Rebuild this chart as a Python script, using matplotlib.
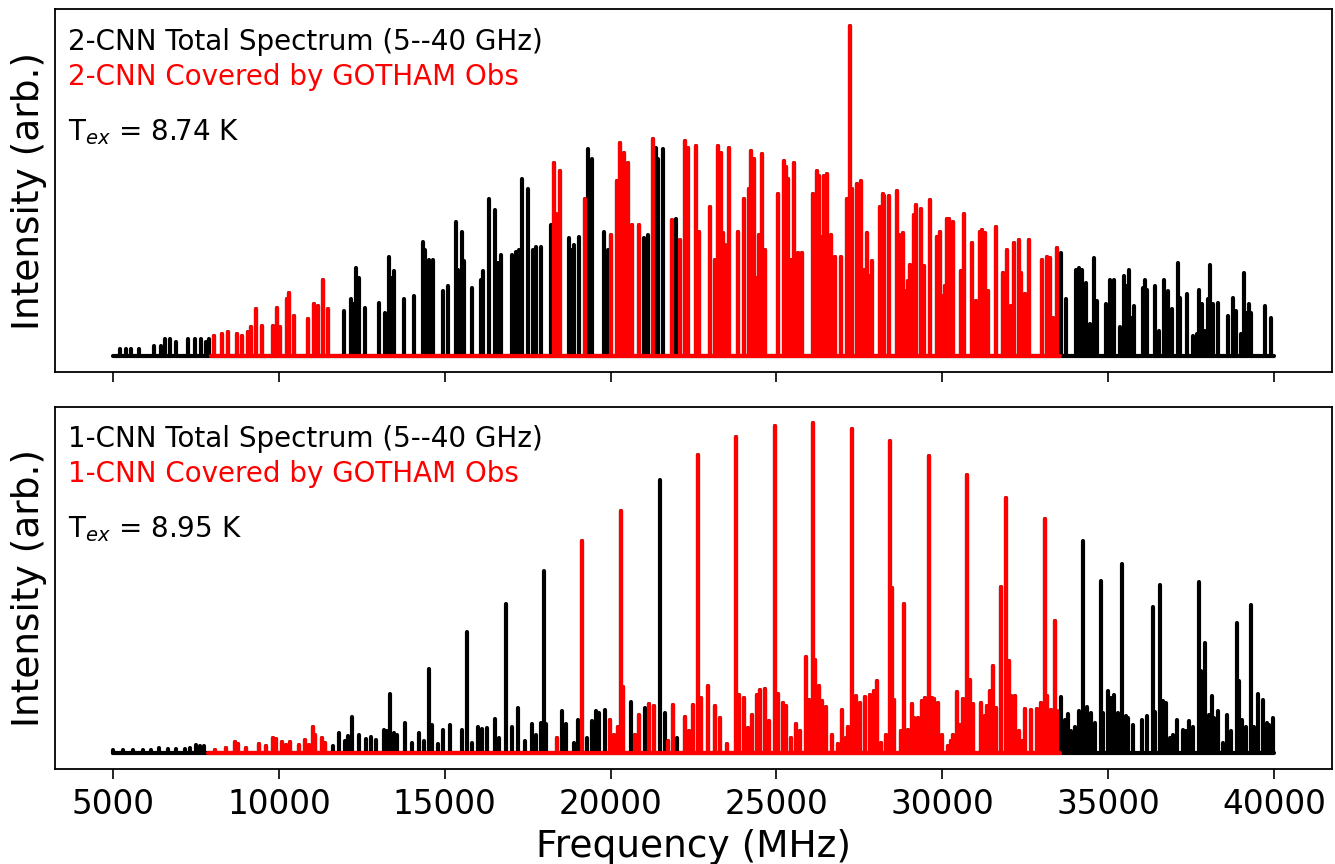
import numpy as np
import matplotlib
matplotlib.use("Agg")
import matplotlib.pyplot as plt

# ---- 2-CNN line list (MHz, relative intensity) ----
top_freq = [5200, 5400, 5550, 5770, 6235, 6455, 6575, 6725, 6905, 7260, 7480, 7660, 7790, 7890,
            8030, 8290, 8480, 8740, 8880, 9065, 9165, 9295, 9485, 9815, 9945, 10025, 10235, 10315,
            10470, 10890, 11050, 11170, 11320, 11470,
            11970, 12170, 12240, 12320, 12420, 12605, 13005, 13205, 13305, 13405, 13475, 13777,
            14078, 14330, 14400, 14510, 14650, 14950, 15110, 15332, 15412, 15513, 15593, 15834,
            16084, 16155, 16335, 16516, 16616, 16706, 17037, 17158, 17238, 17318, 17509, 17659,
            17760, 17890, 18190,
            18291, 18361, 18482, 18742, 18823, 18903, 19043, 19214, 19304, 19445, 19815, 19916,
            20016, 20197, 20297, 20417, 20528, 20648, 20869, 21019, 21130, 21280, 21370, 21430,
            21571, 21852, 21972,
            22102, 22232, 22333, 22574, 22654, 23005, 23135, 23236, 23326, 23386, 23456, 23577,
            23828, 24028, 24159, 24239, 24319, 24410, 24460, 24560, 24640, 25041, 25222, 25282,
            25342, 25442, 25543, 25643, 25783, 26094, 26215, 26285, 26345, 26435, 26516, 26586,
            26646, 26766, 26947, 27117, 27218, 27288, 27428, 27539, 27649, 27729, 27799, 27890,
            28120, 28201, 28251, 28401, 28622, 28702, 28802, 28893, 28953, 29033, 29144, 29194,
            29354, 29434, 29635, 29835, 29926, 30026, 30076, 30156, 30207, 30327, 30578, 30658,
            30909, 31009, 31059, 31150, 31200, 31300, 31380, 31631, 31831, 31962, 32062, 32152,
            32303, 32383, 32483, 32624, 33005, 33155, 33256, 33336, 33446,
            33587, 33737, 34018, 34118, 34219, 34339, 34439, 34570, 34670, 34921, 35061, 35172,
            35352, 35472, 35563, 35643, 35723, 35793, 36044, 36114, 36174, 36415, 36545, 36696,
            36817, 36927, 37097, 37168, 37368, 37549, 37669, 37749, 37830, 37920, 38000, 38080,
            38160, 38321, 38622, 38752, 38853, 39003, 39083, 39184, 39254, 39304, 39735, 39906]
top_int = [2, 2, 2, 2, 3, 3, 5, 5, 4, 5, 5, 5, 4, 5,
           6, 6.5, 7, 6.5, 6, 7, 8.5, 14, 9, 9, 14.5, 8.5, 17, 19,
           12, 11, 15.5, 15, 23, 14,
           13.5, 17, 15.5, 26.5, 23.5, 14.5, 16, 13, 30, 23.5, 25.5, 17,
           18, 34.5, 32, 29, 29, 19.5, 21, 40.5, 26, 37.5, 28.5, 20.5,
           23, 25.5, 47.5, 44, 28, 30.5, 30.5, 31.5, 32, 53.5, 50.5, 32,
           33, 33, 39.5,
           58.5, 43, 56, 35.5, 32, 33.5, 36, 47.5, 62.5, 59.5, 37.5, 32,
           36.5, 53, 64.5, 61.5, 58.5, 39.5, 39.5, 35.5, 36.5, 65.5, 63, 59.5,
           62.5, 41, 41.5,
           35, 65, 63, 63.5, 37.5, 45, 29, 63.5, 61.5, 37, 33.5, 63,
           37.5, 47.5, 50.5, 62, 59.5, 23.5, 36.5, 61, 32, 49, 59, 57,
           53.5, 29, 58.5, 31, 31, 49, 56, 54.5, 36, 54.5, 55, 28,
           36.5, 30, 30, 47.5, 100, 50.5, 52, 53, 26, 37, 24, 28.5,
           45, 49, 48.5, 48.5, 50, 36.5, 37, 19.5, 22.5, 27.5, 42.5, 45.5,
           44.5, 27, 47, 36, 37.5, 18, 21, 41.5, 41.5, 40.5, 25.5, 43,
           34, 16.5, 13.5, 37.5, 38, 37, 19.5, 39, 25, 32, 15, 34,
           35, 25, 18.5, 35, 29, 30, 29.5, 11.5, 32.5,
           31, 17, 26, 26.5, 26, 22, 9.5, 29.5, 16.5, 15.5, 23, 23,
           8.5, 24, 21, 26, 11.5, 15, 20.5, 23, 20, 21, 7.5, 23,
           19.5, 14, 28, 17.5, 18.5, 6, 6.5, 20, 15.5, 7.5, 17, 27.5,
           15.5, 16, 12, 17.5, 13.5, 6.5, 25, 13, 15.5, 13, 15, 11.5]
# GOTHAM-covered frequency windows (MHz)
top_windows = [(7960, 11550), (18250, 18550), (19150, 19260), (19980, 20900),
               (21250, 21320), (21800, 21900), (22050, 33550)]

# ---- 1-CNN line list ----
bot_freq = [5000, 5302, 5603, 5904, 6155, 6385, 6656, 6907, 7158, 7308, 7509, 7609, 7729,
            8060, 8411, 8662, 8762, 9013, 9394, 9615, 9816, 9916, 10096, 10217, 10347, 10618,
            10799, 10919, 11019, 11099, 11300, 11400,
            11621, 11802, 12001, 12072, 12203, 12403, 12624, 12774, 12925, 13156, 13246, 13356,
            13456, 13556, 13808, 14008, 14209, 14379, 14510, 14630, 14811, 14951, 15152, 15533,
            15683, 15834, 16014, 16135, 16285, 16516, 16636, 16836, 17037, 17218, 17419, 17640,
            17740, 17890, 17990, 18060,
            18381, 18542, 18642, 18883, 19023, 19144, 19294, 19424, 19565, 19645, 19826,
            19996, 20096, 20227, 20307, 20377, 20628, 20728, 20849, 21049, 21170, 21300, 21480,
            21651, 21731, 21872, 22002,
            22233, 22353, 22474, 22630, 22734, 22935, 23135, 23306, 23507, 23787, 23878, 24028,
            24138, 24259, 24409, 24510, 24660, 24780, 24961, 25041, 25212, 25282, 25442, 25593,
            25713, 25894, 25984, 26114, 26165, 26285, 26385, 26495, 26686, 26846, 26987, 27097,
            27168, 27288, 27388, 27519, 27669, 27820, 27950, 28040, 28150, 28291, 28421, 28472,
            28552, 28752, 28853, 28973, 29073, 29154, 29274, 29374, 29474, 29595, 29675, 29755,
            29876, 29976, 30157, 30257, 30327, 30447, 30527, 30628, 30758, 30828, 30929, 31159,
            31280, 31360, 31430, 31530, 31631, 31781, 31932, 32002, 32062, 32183, 32303, 32403,
            32483, 32684, 32864, 32965, 33085, 33165, 33266, 33386, 33466,
            33587, 33687, 33787, 33868, 34008, 34108, 34239, 34369, 34489, 34590, 34770, 34841,
            34991, 35071, 35161, 35292, 35412, 35542, 35613, 35763, 36024, 36164, 36345, 36425,
            36556, 36646, 36746, 36877, 36967, 37077, 37268, 37348, 37448, 37549, 37729, 37799,
            37930, 38050, 38120, 38201, 38301, 38451, 38572, 38702, 38873, 38953, 39023, 39154,
            39304, 39384, 39505, 39675, 39786, 39856, 39956]
bot_int = [0.8, 1, 1, 1, 1, 1.5, 1.2, 1.2, 1.2, 1.5, 2.5, 2, 2,
           1, 1.5, 3.3, 2.7, 1.5, 2.7, 2, 4.5, 4.3, 3.3, 2.5, 3.3, 2.5,
           4, 2.5, 7.8, 5.5, 4.5, 3,
           2, 6, 3.7, 5, 10.8, 5.4, 4.3, 4.7, 4, 7, 6.8, 17.9,
           6, 5.5, 9, 3, 6, 3.5, 25.5, 8.4, 2.7, 7, 8.6, 7,
           36.7, 3, 7.8, 7.4, 7.6, 10.4, 4.5, 45, 8, 13.6, 3.5, 8.8,
           5.5, 9, 55, 8.8,
           4.5, 12.6, 8.8, 3, 10, 64.3, 4.5, 9.6, 12.6, 12, 13,
           10, 5.5, 8, 73.4, 19.9, 15.4, 5.4, 11.6, 13.6, 14.8, 14.1, 82.8,
           12, 3.5, 14.6, 4.5,
           10.8, 6.6, 14.6, 90.4, 16.7, 20.2, 14.1, 10.6, 2.7, 95.7, 17.7, 16.7,
           7.6, 11.6, 17.5, 19.2, 19.5, 9.8, 99, 17.9, 15.2, 14.1, 4.5, 8.8,
           6.6, 29.1, 16.2, 100, 28.3, 20.4, 15.7, 13.8, 5.6, 2.7, 13.1, 4.5,
           8, 98.3, 17.4, 15.2, 16.9, 17.7, 18.9, 21.7, 3, 5.6, 94.6, 50,
           16.2, 6.8, 45.2, 7, 14.8, 10.6, 10.6, 15.9, 16.7, 89.9, 16.7, 16.5,
           15, 5.6, 2, 3.5, 5.6, 18.5, 8.6, 16.5, 84.3, 22.2, 14.8, 15.2,
           11.1, 14.1, 18.7, 26.3, 13.6, 50.2, 77.3, 27.8, 17.2, 17.2, 6.6, 3.5,
           13.4, 13.1, 13.4, 15.2, 71, 17.2, 13.1, 39.9, 12.8,
           16.9, 10.1, 11.8, 6.6, 7.8, 12.6, 64.1, 13.8, 12.1, 9.1, 52, 12.1,
           18.7, 16.7, 17.5, 12.1, 57.3, 11.1, 10.6, 8.6, 10.1, 11.1, 44.1, 12.4,
           51, 15.9, 15.2, 4.5, 5.6, 10.1, 7, 6.6, 9.8, 8, 51.8, 24.7,
           33.3, 11.6, 17.2, 10.6, 12.8, 3, 11.6, 6.6, 39.4, 21.7, 10.1, 8,
           44.7, 7.8, 17.9, 16.2, 9.1, 8.6, 10.6]
bot_windows = [(7860, 11550), (18300, 18450), (19100, 19200), (19950, 20450),
               (20700, 20900), (21150, 21320), (21700, 21900), (22200, 33560)]

spec_range = [5000, 40000]

panels = [
    (top_freq, top_int, top_windows, "2-CNN", "8.74"),
    (bot_freq, bot_int, bot_windows, "1-CNN", "8.95"),
]

fig = plt.figure(figsize=(13.35, 8.64), dpi=100)
ax_top = fig.add_axes([0.0412, 0.5694, 0.9566, 0.4201])
ax_bot = fig.add_axes([0.0412, 0.1094, 0.9566, 0.4201], sharex=ax_top)

lw = 3.0
for ax, (freq, inten, windows, name, tex) in zip([ax_top, ax_bot], panels):
    freq = np.array(freq, dtype=float)
    inten = np.array(inten, dtype=float)
    obs = np.zeros(len(freq), dtype=bool)
    for lo, hi in windows:
        obs |= (freq >= lo) & (freq <= hi)

    ax.hlines(0, spec_range[0], spec_range[1], color="k", lw=lw, capstyle="round")
    ax.vlines(freq, 0, inten, color="k", lw=lw, capstyle="round")
    ax.hlines(0, windows[0][0], windows[-1][1], color="r", lw=lw, capstyle="round")
    ax.vlines(freq[obs], 0, inten[obs], color="r", lw=lw, capstyle="round")

    ax.set_xlim(3250, 41750)
    ax.set_ylim(-5, 105)
    ax.set_yticks([])
    ax.set_ylabel("Intensity (arb.)", fontsize=27, labelpad=6)
    ax.tick_params(axis="x", labelsize=23.5, length=7, width=1.2, pad=6)
    for s in ax.spines.values():
        s.set_linewidth(1.3)

    ax.text(0.01, 0.91, f"{name} Total Spectrum (5--40 GHz)", transform=ax.transAxes,
            fontsize=20, color="k", va="center", ha="left")
    ax.text(0.01, 0.813, f"{name} Covered by GOTHAM Obs", transform=ax.transAxes,
            fontsize=20, color="r", va="center", ha="left")
    ax.text(0.01, 0.662, "T$_{ex}$ = " + tex + " K", transform=ax.transAxes,
            fontsize=20, color="k", va="center", ha="left")

plt.setp(ax_top.get_xticklabels(), visible=False)
ax_bot.set_xlabel("Frequency (MHz)", fontsize=27, labelpad=6)
ax_bot.set_xticks(np.arange(5000, 40001, 5000))

fig.savefig("out.png", dpi=100)
